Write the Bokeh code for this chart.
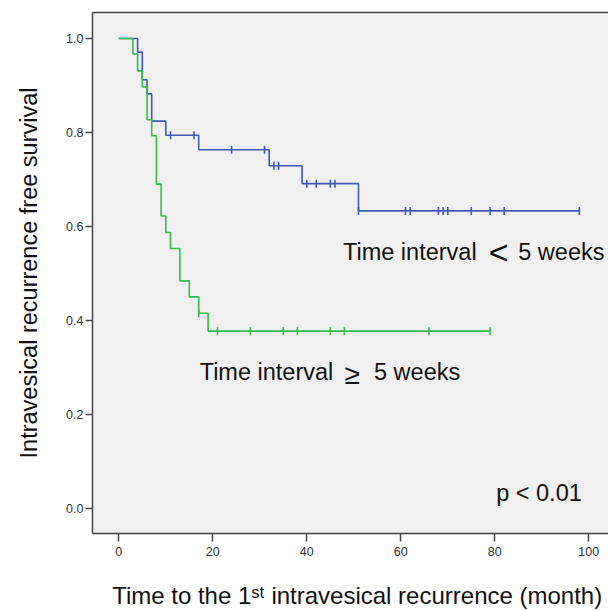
import numpy as np
from bokeh.plotting import figure
from bokeh.models import Range1d, Label, LinearAxis, NumeralTickFormatter, ColumnDataSource, FixedTicker
from bokeh.embed import file_html
from bokeh.resources import INLINE

# Group "< 5 weeks" (blue)
blue_times = [0, 4, 5, 6, 7, 10, 17, 32, 39, 51, 98]
blue_surv = [1.0, 0.971, 0.912, 0.882, 0.824, 0.794, 0.763, 0.729, 0.691, 0.633, 0.633]
blue_censored = [11, 16, 24, 31, 33, 34, 40, 42, 45, 46, 51, 61, 62, 68, 69, 70, 75, 79, 82, 98]

# Group ">= 5 weeks" (green)
green_times = [0, 3, 4, 5, 6, 7, 8, 9, 10, 11, 13, 15, 17, 19, 79]
green_surv = [1.0, 0.967, 0.931, 0.897, 0.827, 0.793, 0.690, 0.622, 0.587, 0.553, 0.484, 0.450, 0.415, 0.377, 0.377]
green_censored = [17, 21, 28, 35, 38, 45, 48, 66, 79]

x_ticks = [0, 20, 40, 60, 80, 100]
y_ticks = [0.0, 0.2, 0.4, 0.6, 0.8, 1.0]

BLUE = "#4159b4"
GREEN = "#34bb4c"
FONT = "Liberation Sans"


def level_at(times, surv, t):
    idx = np.searchsorted(np.array(times), np.array(t), side="right") - 1
    return list(np.array(surv)[idx])


p = figure(width=608, height=611, output_backend="svg", toolbar_location=None,
           x_range=Range1d(-5.6, 104.2), y_range=Range1d(-0.0538, 1.0553),
           min_border_left=92, min_border_right=0, min_border_top=12, min_border_bottom=78,
           background_fill_color="#f0f0f0", border_fill_color="white",
           outline_line_color=None)
p.grid.visible = False

for times, surv, cens, col in [(blue_times, blue_surv, blue_censored, BLUE),
                               (green_times, green_surv, green_censored, GREEN)]:
    p.step(x=times, y=surv, mode="after", line_color=col, line_width=1.6)
    src = ColumnDataSource(dict(x=cens, y=level_at(times, surv, cens)))
    p.scatter(x="x", y="y", source=src, marker="dash", angle=np.pi / 2, size=8,
              line_color=col, line_width=1.6)

# axes
for ax in (p.xaxis[0], p.yaxis[0]):
    ax.axis_line_color = "#444444"
    ax.axis_line_width = 1.5
    ax.major_tick_line_color = "#444444"
    ax.major_tick_line_width = 1.5
    ax.major_tick_in = 0
    ax.minor_tick_line_color = None
    ax.major_label_text_font = FONT
    ax.major_label_text_font_size = "12.5px"
    ax.major_label_text_color = "#333333"
    ax.axis_label_text_font = FONT
    ax.axis_label_text_font_size = "23.5px"
    ax.axis_label_text_font_style = "normal"
    ax.axis_label_text_color = "#111111"

p.xaxis.ticker = FixedTicker(ticks=x_ticks)
p.xaxis.major_tick_out = 8
p.xaxis.major_label_standoff = 5
p.xaxis.axis_label = "\u00a0\u00a0Time to the 1\u02e2\u1d57 intravesical recurrence (month)"
p.xaxis.axis_label_text_font_size = "24px"
p.xaxis.axis_label_text_line_height = 0.8
p.xaxis.axis_label_standoff = 23

p.yaxis.ticker = FixedTicker(ticks=y_ticks)
p.yaxis.formatter = NumeralTickFormatter(format="0.0")
p.yaxis.major_tick_out = 7
p.yaxis.major_label_standoff = 2
p.yaxis.axis_label = "Intravesical recurrence free survival"
p.yaxis.axis_label_standoff = 21

top = LinearAxis(ticker=FixedTicker(ticks=[]), axis_line_color="#444444", axis_line_width=1.5,
                 major_tick_line_color=None, minor_tick_line_color=None,
                 major_label_text_font_size="0px")
p.add_layout(top, "above")


def lab(x, y, text, size="23.5px"):
    p.add_layout(Label(x=x, y=y, text=text, text_font=FONT, text_font_size=size,
                       text_color="#111111", text_align="left", text_baseline="alphabetic"))


lab(47.7, 0.545, "Time interval")
lab(78.7, 0.545, "<", "34px")
lab(85.0, 0.545, "5 weeks")

lab(17.2, 0.290, "Time interval")
lab(48.0, 0.284, "≥", "28px")
lab(54.3, 0.290, "5 weeks")

lab(80.3, 0.0334, "p < 0.01")

open("out.html", "w").write(file_html(p, INLINE))
